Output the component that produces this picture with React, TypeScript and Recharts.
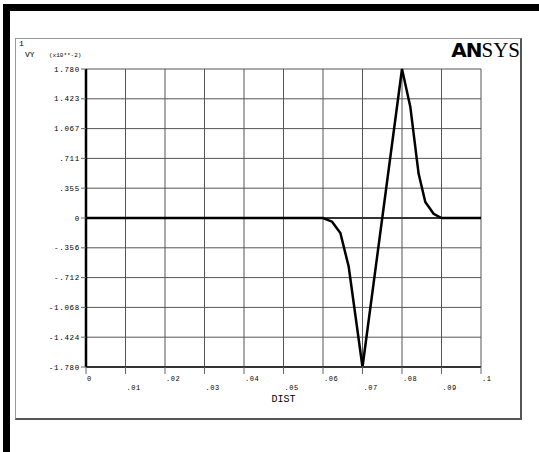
import { LineChart, Line, XAxis, YAxis, CartesianGrid, ReferenceLine } from "recharts";

// node positions along the path and the VY result (x10**-2)
const dist = [0, 0.01, 0.02, 0.03, 0.04, 0.05, 0.06, 0.0623, 0.0644, 0.0665, 0.07, 0.075, 0.08, 0.0821, 0.0842, 0.0859, 0.088, 0.09, 0.1];
const vy = [0, 0, 0, 0, 0, 0, 0, -0.044, -0.18, -0.58, -1.78, 0, 1.78, 1.33, 0.53, 0.19, 0.05, 0, 0];

const yTicks = [1.78, 1.424, 1.068, 0.712, 0.356, 0, -0.356, -0.712, -1.068, -1.424, -1.78];
const yTickLabels = ["1.780", "1.423", "1.067", ".711", ".355", "0", "-.356", "-.712", "-1.068", "-1.424", "-1.780"];
const xTicks = [0, 0.01, 0.02, 0.03, 0.04, 0.05, 0.06, 0.07, 0.08, 0.09, 0.1];
const xTickLabels = ["0", ".01", ".02", ".03", ".04", ".05", ".06", ".07", ".08", ".09", ".1"];

const data = dist.map((d, i) => ({ dist: d, vy: vy[i] }));

const MONO = "'Liberation Mono', 'DejaVu Sans Mono', monospace";

function XTick(props: any) {
  const { x, index } = props;
  const y = index % 2 === 0 ? 381 : 390;
  return (
    <text x={x + 1} y={y} fontSize={7} fontFamily={MONO} fill="#000" textAnchor="start" letterSpacing={0.6}>
      {xTickLabels[index]}
    </text>
  );
}

export default function App() {
  return (
    <div style={{ position: "absolute", left: 0, top: 0, width: 539, height: 452, background: "#fff", overflow: "hidden" }}>
      <div style={{ position: "absolute", left: 3, top: 4, width: 536, height: 7, background: "#000" }} />
      <div style={{ position: "absolute", left: 3, top: 4, width: 7, height: 448, background: "#000" }} />
      <div
        style={{
          position: "absolute", left: 15, top: 38, width: 507, height: 382, boxSizing: "border-box",
          borderLeft: "1px solid #999", borderTop: "1px solid #999",
          borderRight: "2px solid #555", borderBottom: "2px solid #555",
        }}
      />
      <div style={{ position: "absolute", left: 0, top: 0 }}>
        <LineChart width={539} height={452} data={data} margin={{ top: 69, right: 58, bottom: 45, left: 0 }}>
          <CartesianGrid stroke="#555" strokeWidth={1} />
          <XAxis
            dataKey="dist"
            type="number"
            domain={[0, 0.1]}
            ticks={xTicks}
            interval={0}
            height={40}
            axisLine={{ stroke: "#333", strokeWidth: 2 }}
            tickLine={{ stroke: "#666" }}
            tickSize={7}
            tick={<XTick />}
            label={{ value: "DIST", position: "insideBottom", offset: 5, fontSize: 10, fontFamily: MONO, fill: "#000" }}
          />
          <YAxis
            type="number"
            domain={[-1.78, 1.78]}
            ticks={yTicks}
            interval={0}
            width={86}
            axisLine={{ stroke: "#000", strokeWidth: 2.5 }}
            tickLine={{ stroke: "#666" }}
            tickSize={5}
            tickMargin={1}
            tick={{ fontSize: 7.5, fontFamily: MONO, fill: "#000", letterSpacing: 0.7 }}
            tickFormatter={(_v: number, i: number) => yTickLabels[i]}
          />
          <ReferenceLine y={0} stroke="#333" strokeWidth={2} />
          <Line
            type="linear"
            dataKey="vy"
            stroke="#000"
            strokeWidth={2.5}
            dot={false}
            isAnimationActive={false}
          />
        </LineChart>
      </div>
      <svg width={539} height={452} style={{ position: "absolute", left: 0, top: 0, pointerEvents: "none" }}>
        <text x={19} y={46} fontSize={8} fontFamily={MONO} fill="#000">1</text>
        <text x={25} y={57} fontSize={8} fontFamily={MONO} fill="#000">VY</text>
        <text x={49} y={57} fontSize={6} fontFamily={MONO} fill="#000">(x10**-2)</text>
        <text x={520} y={57} textAnchor="end" fill="#000">
          <tspan fontFamily="'DejaVu Sans', sans-serif" fontWeight={900} fontSize={20} letterSpacing={-1}>AN</tspan>
          <tspan fontFamily="'Liberation Serif', serif" fontSize={21}>SYS</tspan>
        </text>
      </svg>
    </div>
  );
}
